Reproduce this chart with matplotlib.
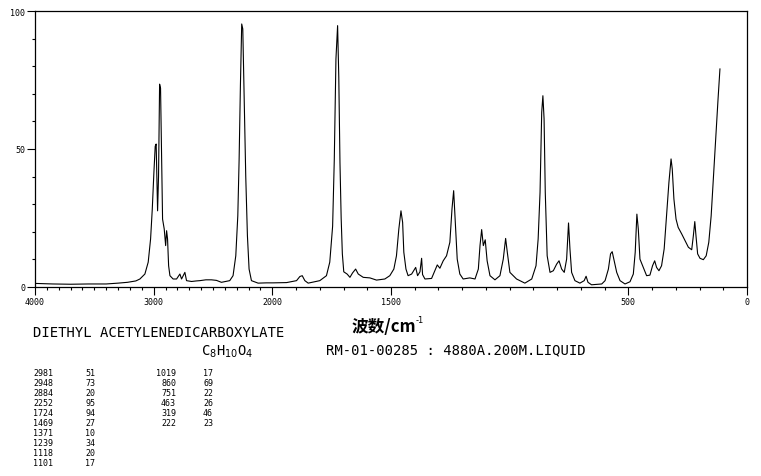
import matplotlib
matplotlib.use("Agg")
import matplotlib.pyplot as plt
import numpy as np
from matplotlib.ticker import FixedLocator, FixedFormatter

# Raman spectrum (wavenumber cm-1, relative intensity)
wavenumber = [
    4000, 3850, 3700, 3550, 3400, 3300, 3220, 3150, 3116, 3074, 3046, 3026,
    3012, 2998, 2987, 2979, 2973, 2967, 2959, 2950, 2942, 2933, 2925, 2911,
    2899, 2891, 2883, 2874, 2863, 2836, 2807, 2779, 2765, 2737, 2723, 2681,
    2640, 2611, 2560, 2513, 2471, 2429, 2359, 2331, 2308, 2291, 2280, 2269,
    2258, 2249, 2238, 2224, 2210, 2196, 2176, 2120, 2050, 1997, 1940, 1898,
    1884, 1874, 1863, 1849, 1800, 1772, 1758, 1746, 1739, 1732, 1725, 1720,
    1715, 1710, 1705, 1699, 1685, 1673, 1662, 1649, 1638, 1617, 1589, 1561,
    1526, 1505, 1488, 1477, 1467, 1458, 1451, 1446, 1437, 1428, 1413, 1396,
    1388, 1378, 1371, 1367, 1357, 1329, 1315, 1305, 1294, 1280, 1266, 1252,
    1243, 1236, 1228, 1221, 1210, 1196, 1168, 1146, 1132, 1125, 1118, 1111,
    1103, 1095, 1083, 1062, 1041, 1027, 1017, 1010, 999, 985, 971, 936,
    907, 889, 880, 872, 865, 860, 855, 850, 842, 830, 816, 802,
    792, 781, 770, 760, 752, 746, 739, 725, 704, 686, 678, 670,
    655, 612, 598, 584, 575, 568, 561, 549, 535, 514, 493, 479,
    471, 464, 458, 451, 437, 423, 409, 398, 389, 381, 371, 360,
    349, 339, 329, 320, 315, 308, 299, 290, 275, 261, 247, 233,
    226, 220, 215, 208, 198, 184, 172, 161, 151, 142, 132, 122, 114,
]
intensity = [
    1.3, 1.1, 1.0, 1.1, 1.1, 1.4, 1.7, 2.2, 2.9, 4.7, 9.0, 17.4,
    28.0, 41.5, 51.0, 51.8, 40.0, 27.6, 40.0, 73.5, 72.0, 46.0, 24.6, 21.0,
    15.0, 20.4, 17.4, 7.7, 4.1, 2.9, 2.9, 4.7, 2.9, 5.3, 2.3, 2.0,
    2.2, 2.3, 2.6, 2.6, 2.4, 1.7, 2.3, 4.1, 11.3, 25.8, 46.0, 73.0,
    95.3, 93.5, 70.5, 40.0, 18.6, 6.5, 2.3, 1.4, 1.5, 1.5, 1.6, 2.3,
    3.8, 4.1, 2.3, 1.4, 2.3, 4.1, 9.0, 22.0, 46.0, 82.6, 94.7, 76.0,
    45.0, 25.0, 12.0, 5.5, 4.7, 3.5, 5.1, 6.5, 4.7, 3.5, 3.3, 2.5,
    2.9, 4.1, 6.5, 11.3, 21.0, 27.6, 23.4, 12.6, 6.5, 4.1, 4.7, 7.1,
    4.1, 5.5, 10.4, 4.5, 2.9, 3.1, 5.9, 8.0, 6.8, 9.5, 11.3, 16.2,
    28.3, 34.9, 22.0, 10.1, 4.7, 2.9, 3.3, 2.9, 6.5, 15.0, 20.8, 15.0,
    17.1, 9.5, 4.1, 2.6, 4.1, 10.1, 17.6, 12.6, 5.3, 4.1, 2.9, 1.4,
    2.9, 7.7, 17.4, 34.3, 63.3, 69.3, 60.9, 34.3, 11.3, 5.3, 5.9, 8.3,
    9.5, 6.5, 5.3, 10.1, 23.2, 13.8, 5.3, 2.3, 1.4, 2.3, 3.9, 1.7,
    0.8, 1.1, 2.3, 6.5, 12.0, 12.8, 10.1, 5.3, 2.3, 1.1, 1.9, 4.7,
    12.6, 26.4, 21.0, 10.1, 7.1, 4.1, 4.3, 7.7, 9.5, 7.1, 5.9, 7.7,
    13.8, 25.8, 37.9, 46.4, 42.8, 31.9, 24.6, 21.6, 19.2, 16.8, 14.4, 13.5,
    18.6, 23.7, 18.6, 12.0, 10.4, 9.9, 11.3, 16.2, 25.8, 39.1, 53.6, 68.1, 79.0,
]

# peak table
peak_wn_1 = ["2981", "2948", "2884", "2252", "1724", "1469", "1371", "1239", "1118", "1101"]
peak_int_1 = ["51", "73", "20", "95", "94", "27", "10", "34", "20", "17"]
peak_wn_2 = ["1019", "860", "751", "463", "319", "222"]
peak_int_2 = ["17", "69", "22", "26", "46", "23"]

x_major = [4000, 3000, 2000, 1500, 500, 0]
x_major_labels = ["4000", "3000", "2000", "1500", "500", "0"]
y_major = [0, 50, 100]

compound = "DIETHYL ACETYLENEDICARBOXYLATE"
formula = r"C$_8$H$_{10}$O$_4$"
sample_info = "RM-01-00285 : 4880A.200M.LIQUID"
x_title = "波数/cm"
x_title_sup = "-1"

W, H = 761, 477
mono = "DejaVu Sans Mono"
plt.rcParams["mathtext.fontset"] = "dejavusans"


# above 2000 cm-1 the axis is compressed by a factor of two
def forward(w):
    w = np.asarray(w, dtype=float)
    return np.where(w > 2000, 2000 + (w - 2000) / 2, w)


def inverse(u):
    u = np.asarray(u, dtype=float)
    return np.where(u > 2000, 2000 + (u - 2000) * 2, u)


fig = plt.figure(figsize=(W / 100, H / 100), dpi=100)
ax = fig.add_axes([35 / W, 1 - 288 / H, (747 - 35) / W, (288 - 12) / H])

ax.plot(wavenumber, intensity, color="black", lw=0.8)

ax.set_xscale("function", functions=(forward, inverse))
ax.set_xlim(4000, 0)
ax.set_ylim(0, 100)

ax.xaxis.set_major_locator(FixedLocator(x_major))
ax.xaxis.set_major_formatter(FixedFormatter(x_major_labels))
ax.xaxis.set_minor_locator(FixedLocator([v for v in range(0, 4001, 100) if v not in x_major]))
ax.yaxis.set_major_locator(FixedLocator(y_major))
ax.yaxis.set_minor_locator(FixedLocator([v for v in range(0, 101, 10) if v not in y_major]))

ax.tick_params(which="major", direction="out", length=6, width=0.8, labelsize=6, pad=1)
ax.tick_params(which="minor", direction="out", length=2.5, width=0.8)
for lab in ax.get_xticklabels() + ax.get_yticklabels():
    lab.set_family(mono)
for sp in ax.spines.values():
    sp.set_linewidth(0.9)


def ftext(x, y, s, **kw):
    fig.text(x / W, 1 - y / H, s, **kw)


ftext(33, 333, compound, family=mono, fontsize=10, va="center", ha="left")
ftext(201, 352, formula, family=mono, fontsize=10, va="center", ha="left")
ftext(352, 327, x_title, family=["Noto Sans CJK SC", "DejaVu Sans"], fontsize=12,
      fontweight="bold", va="center", ha="left")
ftext(416, 321, x_title_sup, family="DejaVu Sans", fontsize=6, va="center", ha="left")
ftext(326, 350, sample_info, family=mono, fontsize=10, va="center", ha="left")

# peak list, two pairs of columns
for i, (wn, it) in enumerate(zip(peak_wn_1, peak_int_1)):
    yy = 373.5 + 10 * i
    ftext(33, yy, wn, family=mono, fontsize=6, va="center", ha="left")
    ftext(85, yy, it, family=mono, fontsize=6, va="center", ha="left")
for i, (wn, it) in enumerate(zip(peak_wn_2, peak_int_2)):
    yy = 373.5 + 10 * i
    ftext(176, yy, wn, family=mono, fontsize=6, va="center", ha="right")
    ftext(203, yy, it, family=mono, fontsize=6, va="center", ha="left")

fig.savefig("out.png", dpi=100)
